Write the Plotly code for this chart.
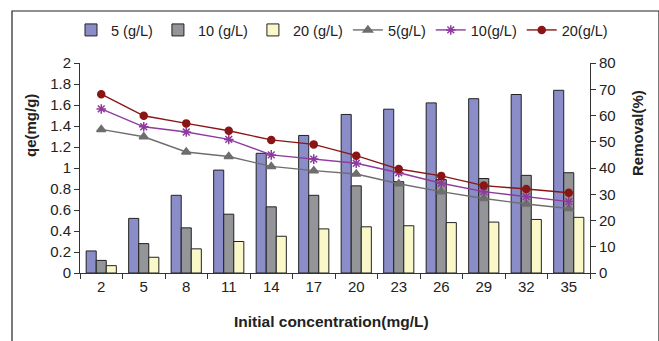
import plotly.graph_objects as go

categories = ["2", "5", "8", "11", "14", "17", "20", "23", "26", "29", "32", "35"]

qe_5 = [0.21, 0.52, 0.74, 0.98, 1.14, 1.31, 1.51, 1.56, 1.62, 1.66, 1.70, 1.74]
qe_10 = [0.12, 0.28, 0.43, 0.56, 0.63, 0.74, 0.83, 0.87, 0.89, 0.90, 0.93, 0.955]
qe_20 = [0.07, 0.15, 0.23, 0.30, 0.35, 0.42, 0.44, 0.45, 0.48, 0.485, 0.51, 0.53]

rem_5 = [54.7, 51.9, 46.1, 44.4, 40.6, 39.0, 37.7, 34.0, 31.0, 28.4, 26.3, 24.6]
rem_10 = [62.5, 55.7, 53.7, 50.9, 45.0, 43.4, 41.8, 38.2, 34.2, 31.0, 29.1, 27.2]
rem_20 = [68.1, 59.9, 57.0, 54.2, 50.7, 49.0, 44.7, 39.6, 37.0, 33.3, 32.0, 30.6]

W, H = 659, 341
FONT = "Liberation Sans, Arial, sans-serif"

fig = go.Figure()

bar_specs = [("5 (g/L)", qe_5, "#8A8DC8"), ("10 (g/L)", qe_10, "#949598"), ("20 (g/L)", qe_20, "#FAF8C8")]
for name, vals, col in bar_specs:
    fig.add_trace(go.Bar(x=categories, y=vals, name=name,
                         marker=dict(color=col, line=dict(color="#222222", width=1)), yaxis="y"))

line_specs = [
    ("5(g/L)", rem_5, "#6E6E6E", "triangle-up", 8),
    ("10(g/L)", rem_10, "#8E3A9E", "asterisk-open", 8),
    ("20(g/L)", rem_20, "#8B1515", "circle", 7),
]
for name, vals, col, sym, sz in line_specs:
    fig.add_trace(go.Scatter(x=categories, y=vals, name=name, mode="lines+markers", yaxis="y2",
                             line=dict(color=col, width=1.4),
                             marker=dict(symbol=sym, size=sz, color=col, line=dict(color=col, width=1.5))))

x0, x1 = 80 / W, 590 / W
y0, y1 = (H - 273) / H, (H - 63) / H
axcol = "#333333"

fig.update_layout(
    width=W, height=H,
    margin=dict(l=0, r=0, t=0, b=0),
    paper_bgcolor="white", plot_bgcolor="white",
    font=dict(family=FONT, size=15, color="#222222"),
    barmode="group", bargap=0.29, bargroupgap=0,
    showlegend=True,
    legend=dict(orientation="h", x=342 / W, xanchor="center", y=(H - 30) / H, yanchor="middle",
                font=dict(size=14.5), tracegroupgap=0, itemwidth=30, bgcolor="rgba(0,0,0,0)"),
    xaxis=dict(domain=[x0, x1], type="category", range=[-0.5, 11.5], showline=True, linecolor=axcol,
               linewidth=1, ticks="outside", tickson="boundaries", ticklen=5, tickcolor=axcol,
               showgrid=False, automargin=False),
    yaxis=dict(domain=[y0, y1], range=[0, 2], dtick=0.2, showline=True, linecolor=axcol, linewidth=1,
               ticks="outside", ticklen=5, tickcolor=axcol, showgrid=False, zeroline=False,
               automargin=False),
    yaxis2=dict(overlaying="y", side="right", range=[0, 80], dtick=10, showline=True, linecolor=axcol,
                linewidth=1, ticks="outside", ticklen=5, tickcolor=axcol, showgrid=False, zeroline=False,
                automargin=False),
    annotations=[
        dict(text="<b>Initial concentration(mg/L)</b>", xref="paper", yref="paper", x=331 / W, y=(H - 321) / H,
             xanchor="center", yanchor="middle", showarrow=False, font=dict(size=15.5)),
        dict(text="<b>qe(mg/g)</b>", xref="paper", yref="paper", x=30 / W, y=(H - 126) / H,
             xanchor="center", yanchor="middle", textangle=-90, showarrow=False, font=dict(size=15)),
        dict(text="<b>Removal(%)</b>", xref="paper", yref="paper", x=637 / W, y=(H - 133) / H,
             xanchor="center", yanchor="middle", textangle=-90, showarrow=False, font=dict(size=15)),
    ],
    shapes=[dict(type="rect", xref="paper", yref="paper", x0=12 / W, x1=1.0, y0=-0.2, y1=(H - 11) / H,
                 line=dict(color="#222222", width=1.2), fillcolor="rgba(0,0,0,0)", layer="below")],
)

fig.write_html("out.html")
